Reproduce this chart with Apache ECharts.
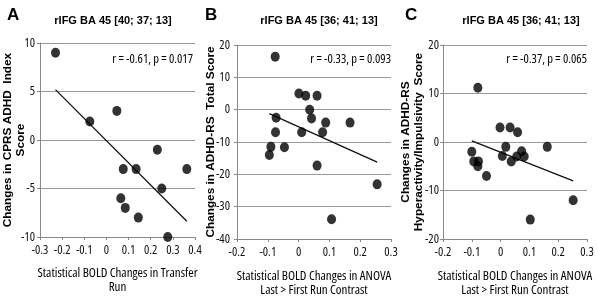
<!DOCTYPE html>
<html><head><meta charset="utf-8">
<script src="https://cdn.jsdelivr.net/npm/echarts@6/dist/echarts.min.js"></script>
<style>html,body{margin:0;padding:0;background:#fff}#c{width:598px;height:297px}</style>
</head><body><div id="c"></div>
<script>
// Panel A data
const aX = [-0.23, -0.075, 0.047, 0.23, 0.076, 0.134, 0.363, 0.25, 0.065, 0.085, 0.144, 0.277];
const aY = [9, 1.9, 3, -1, -3, -3, -3, -5, -6, -7, -8, -10];
// Panel B data
const bX = [-0.076, 0.001, 0.023, 0.06, 0.036, 0.042, -0.073, 0.088, 0.167, 0.01, -0.075, 0.078, -0.09, -0.046, -0.095, 0.06, 0.255, 0.107];
const bY = [16.4, 5, 4.3, 4.3, 0, -2.7, -2.5, -4, -4, -7, -7, -7, -11.5, -11.6, -14, -17.3, -23.1, -33.9];
// Panel C data
const cX = [-0.079, -0.002, 0.033, 0.059, 0.018, 0.162, -0.1, 0.073, -0.093, -0.077, -0.079, -0.049, 0.006, 0.037, 0.056, 0.082, 0.252, 0.103];
const cY = [11.2, 3, 3, 2, -1, -1, -2, -1.9, -4, -4, -5, -7, -2.9, -4, -3, -3, -12, -16];

const titles = ['rIFG BA 45 [40; 37; 13]', 'rIFG BA 45 [36; 41; 13]', 'rIFG BA 45 [36; 41; 13]'];
const stats = ['r = -0.61, p = 0.017', 'r = -0.33, p = 0.093', 'r = -0.37, p = 0.065'];
const letters = ['A', 'B', 'C'];
const yNames = ['Changes in CPRS ADHD  Index\nScore', 'Changes in ADHD-RS  Total Score', 'Changes in ADHD-RS\nHyperactivity/Impulsivity  Score'];
const xNames = ['Statistical BOLD Changes in Transfer\nRun', 'Statistical BOLD Changes in ANOVA\nLast > First Run Contrast', 'Statistical BOLD Changes in ANOVA\nLast > First Run Contrast'];
const xRanges = [[-0.3, 0.4, 0.1], [-0.2, 0.3, 0.1], [-0.2, 0.3, 0.1]];
const yRanges = [[-10, 10, 5], [-40, 20, 10], [-20, 20, 10]];

function pairs(xs, ys) { return xs.map((x, i) => [x, ys[i]]); }
function fit(xs, ys) {
  const n = xs.length;
  const mx = xs.reduce((a, b) => a + b, 0) / n;
  const my = ys.reduce((a, b) => a + b, 0) / n;
  let sxy = 0, sxx = 0;
  for (let i = 0; i < n; i++) { sxy += (xs[i] - mx) * (ys[i] - my); sxx += (xs[i] - mx) ** 2; }
  const s = sxy / sxx, b = my - s * mx;
  const x0 = Math.min(...xs), x1 = Math.max(...xs);
  return [[x0, s * x0 + b], [x1, s * x1 + b]];
}

const NARROW = "'Open Sans', sans-serif";
const grids = [
  { left: 40, top: 43, width: 155, height: 194, containLabel: false, outerBoundsMode: 'none' },
  { left: 237, top: 45, width: 154, height: 194, containLabel: false, outerBoundsMode: 'none' },
  { left: 443, top: 45, width: 144, height: 194, containLabel: false, outerBoundsMode: 'none' }
];
const yGaps = [13, 19.5, 17.5];
const xGaps = [29, 30, 30];
const yLabelMargins = [5, 7, 4];
const titleCx = [113, 319, 521];
const statRight = [193, 391, 587];
const letterX = [7, 205, 405];
const datasets = [[aX, aY], [bX, bY], [cX, cY]];

const xAxis = [], yAxis = [], series = [], graphic = [];
for (let i = 0; i < 3; i++) {
  xAxis.push({
    type: 'value', gridIndex: i, min: xRanges[i][0], max: xRanges[i][1], interval: xRanges[i][2],
    name: xNames[i], nameLocation: 'middle', nameGap: xGaps[i], nameMoveOverlap: false,
    nameTextStyle: { fontStyle: 'condensed', fontFamily: NARROW, fontSize: 13, color: '#000', lineHeight: 14 },
    axisLine: { onZero: false, lineStyle: { color: '#888', width: 1 } },
    axisTick: { show: true, length: 3, lineStyle: { color: '#888' } },
    splitLine: { show: false },
    axisLabel: { fontStyle: 'condensed', fontFamily: NARROW, fontSize: 12.5, color: '#111', margin: 7 }
  });
  yAxis.push({
    type: 'value', gridIndex: i, min: yRanges[i][0], max: yRanges[i][1], interval: yRanges[i][2],
    name: yNames[i], nameLocation: 'middle', nameRotate: 90, nameGap: yGaps[i], nameMoveOverlap: false,
    nameTextStyle: { fontFamily: 'Liberation Sans, Arial, sans-serif', fontWeight: 'bold', fontSize: 11.8, color: '#000', lineHeight: 13 },
    axisLine: { show: true, onZero: false, lineStyle: { color: '#888', width: 1 } },
    axisTick: { show: true, length: 3, lineStyle: { color: '#888' } },
    splitLine: { show: true, lineStyle: { color: '#999', width: 1 } },
    axisLabel: { fontStyle: 'condensed', fontFamily: NARROW, fontSize: 12.5, color: '#111', margin: yLabelMargins[i] }
  });
  const [xs, ys] = datasets[i];
  series.push({
    type: 'scatter', xAxisIndex: i, yAxisIndex: i, data: pairs(xs, ys),
    symbol: 'circle', symbolSize: [9, 10], itemStyle: { color: '#000' }, z: 3
  });
  series.push({
    type: 'line', xAxisIndex: i, yAxisIndex: i, data: fit(xs, ys),
    showSymbol: false, symbol: 'none', lineStyle: { color: '#111', width: 1.3 }, z: 2, silent: true
  });
  graphic.push({
    type: 'text', left: letterX[i], top: 7,
    style: { text: letters[i], font: 'bold 17px "Liberation Sans", Arial, sans-serif', fill: '#000' }
  });
  graphic.push({
    type: 'text', x: titleCx[i], y: 21,
    style: { text: titles[i], font: 'bold 11px "Liberation Sans", Arial, sans-serif', fill: '#000', align: 'center', verticalAlign: 'middle' }
  });
  graphic.push({
    type: 'text', x: statRight[i], y: 59,
    style: { text: stats[i], font: "condensed 12.5px 'Open Sans'", fill: '#000', align: 'right', verticalAlign: 'middle' }
  });
}

const chart = echarts.init(document.getElementById('c'), null, { renderer: 'canvas' });
chart.setOption({
  animation: false,
  backgroundColor: '#fff',
  grid: grids,
  xAxis, yAxis, series, graphic
});
</script></body></html>
